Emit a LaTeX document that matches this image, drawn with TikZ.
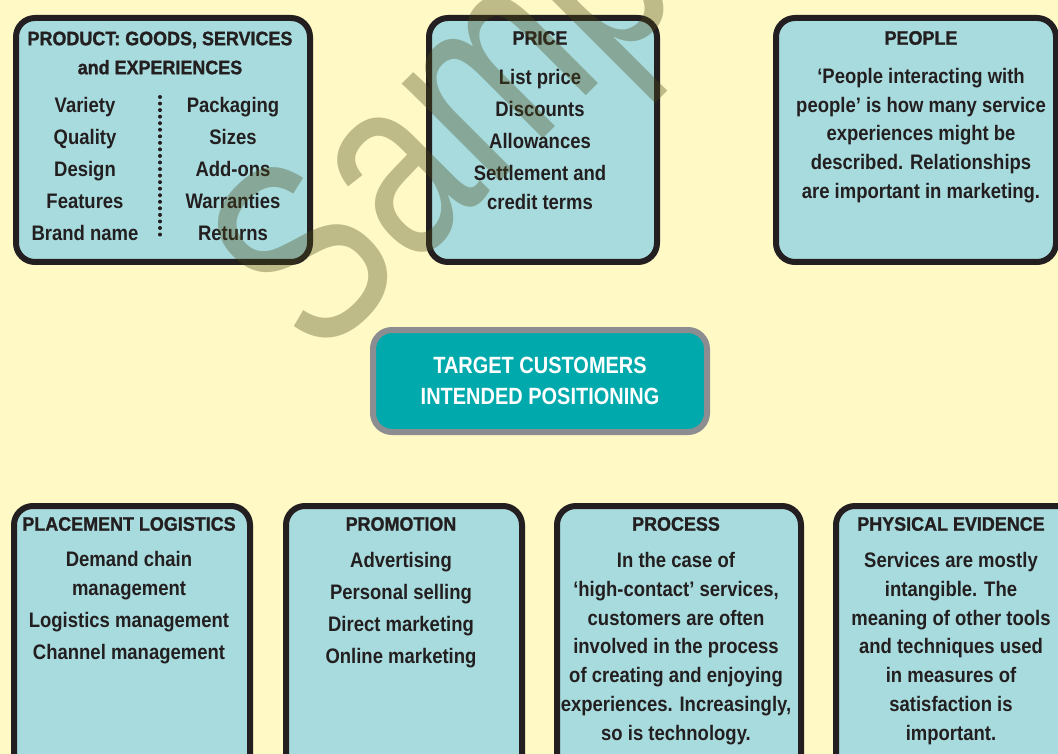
\documentclass[tikz,border=0pt]{standalone}
\usepackage{fontspec}
\setmainfont{Liberation Sans}
\newfontfamily\bodyfont{Liberation Sans}[FakeStretch=0.88]
\newfontfamily\headfont{Liberation Sans}[FakeStretch=0.92,FakeBold=1.2]
\newfontfamily\corefont{Liberation Sans}[FakeStretch=0.85]
\newfontfamily\markfont{Liberation Sans}[FakeStretch=0.76]
\definecolor{bg}{HTML}{FFF9C6}
\definecolor{boxfill}{HTML}{A8DBDD}
\definecolor{ink}{HTML}{231F20}
\definecolor{core}{HTML}{00A9AB}
\definecolor{coreedge}{HTML}{8C8D90}
\definecolor{stamp}{HTML}{4A4818}
\tikzset{
  mixbox/.style={draw=ink, line width=6pt, fill=boxfill, rounded corners=19pt,
    rectangle, inner sep=0pt, anchor=north west},
  corebox/.style={draw=coreedge, line width=6pt, fill=core, rounded corners=19pt,
    rectangle, inner sep=0pt},
  head/.style={text=ink, align=center, inner sep=0pt,
    font=\headfont\bfseries\fontsize{19.5}{29}\selectfont},
  body/.style={text=ink, align=center, inner sep=0pt,
    font=\bodyfont\bfseries\fontsize{21}{32}\selectfont},
  wrapped/.style={body, font=\bodyfont\bfseries\fontsize{21}{28.8}\selectfont},
  coretext/.style={text=white, align=center, inner sep=0pt,
    font=\corefont\bfseries\fontsize{23.5}{31}\selectfont},
}
\begin{document}
\begin{tikzpicture}[x=1pt, y=-1pt]
  \useasboundingbox (0,0) rectangle (1058,754);
  \clip (0,0) rectangle (1058,754);
  \fill[bg] (0,0) rectangle (1058,754);

  % top row of boxes
  \node[mixbox, minimum width=294, minimum height=244] (product) at (13,15) {};
  \node[mixbox, minimum width=228, minimum height=244] (price) at (426,15) {};
  \node[mixbox, minimum width=280, minimum height=244] (people) at (773,15) {};

  % centre box
  \node[corebox, minimum width=334, minimum height=102] (target) at (540,381) {};

  % bottom row of boxes (running off the page)
  \node[mixbox, minimum width=236, minimum height=300] (place) at (11,503) {};
  \node[mixbox, minimum width=236, minimum height=300] (promo) at (283,503) {};
  \node[mixbox, minimum width=244, minimum height=300] (process) at (554,503) {};
  \node[mixbox, minimum width=280, minimum height=300] (physical) at (833,503) {};

  % product
  \node[head] (producthead) at (160,53) {PRODUCT: GOODS, SERVICES\\and EXPERIENCES};
  \node[body] (productleft) at (85,169) {Variety\\Quality\\Design\\Features\\Brand name};
  \node[body] (productright) at (233,169) {Packaging\\Sizes\\Add-ons\\Warranties\\Returns};
  \coordinate (dottop) at (160,97);
  \coordinate (dotbottom) at (160,241);
  \draw[ink, line width=4pt, line cap=round, dash pattern=on 0pt off 6.55pt] (dottop) -- (dotbottom);

  % price
  \node[head] (pricehead) at (540,38) {PRICE};
  \node[body] (pricebody) at (540,139.5) {List price\\Discounts\\Allowances\\Settlement and\\[-3.2pt]credit terms};

  % people
  \node[head] (peoplehead) at (921,38) {PEOPLE};
  \node[wrapped] (peoplebody) at (921,135.5) {‘People interacting with\\people’ is how many service\\experiences might be\\described. Relationships\\are important in marketing.};

  % centre
  \node[coretext] (targettext) at (540,380.5) {TARGET CUSTOMERS\\INTENDED POSITIONING};

  % placement
  \node[head] (placehead) at (129,524) {PLACEMENT LOGISTICS};
  \node[body] (placebody) at (129,607.5) {Demand chain\\[-3.2pt]management\\Logistics management\\Channel management};

  % promotion
  \node[head] (promohead) at (401,524) {PROMOTION};
  \node[body] (promobody) at (401,610) {Advertising\\Personal selling\\Direct marketing\\Online marketing};

  % process
  \node[head] (processhead) at (676,524) {PROCESS};
  \node[wrapped] (processbody) at (676,648.5) {In the case of\\‘high-contact’ services,\\customers are often\\involved in the process\\of creating and enjoying\\experiences. Increasingly,\\so is technology.};

  % physical evidence
  \node[head] (physicalhead) at (951,524) {PHYSICAL EVIDENCE};
  \node[wrapped] (physicalbody) at (951,648.5) {Services are mostly\\intangible. The\\meaning of other tools\\and techniques used\\in measures of\\satisfaction is\\important.};

  % translucent stamp across the upper part
  \node[text=stamp, opacity=0.35, inner sep=0pt, anchor=base west, rotate=45,
    font=\markfont\fontsize{262}{262}\selectfont] (stampword) at (318,364) {Sample};
\end{tikzpicture}
\end{document}
